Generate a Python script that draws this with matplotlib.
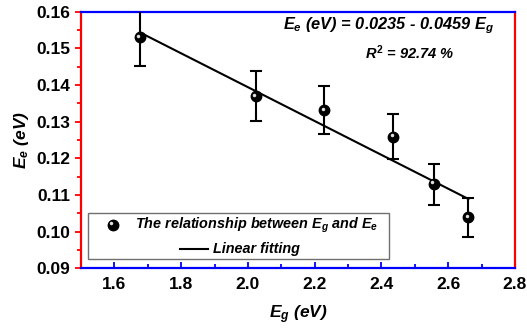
import matplotlib
matplotlib.use("Agg")
import matplotlib.pyplot as plt
import matplotlib.transforms as mtransforms
from matplotlib.patches import Rectangle
from matplotlib.lines import Line2D
import numpy as np

# data
eg = [1.676, 2.024, 2.229, 2.436, 2.557, 2.661]
ee = [0.1530, 0.1369, 0.1331, 0.1259, 0.1130, 0.1039]
ee_err = [0.0077, 0.0068, 0.0065, 0.0061, 0.0056, 0.0052]

# fitted line drawn in the figure
fit_intercept = 0.2316
fit_slope = -0.0461

plt.rcParams["font.family"] = ["Liberation Sans", "DejaVu Sans"]
plt.rcParams["font.weight"] = "bold"
plt.rcParams["mathtext.fontset"] = "custom"
plt.rcParams["mathtext.rm"] = "Liberation Sans:bold"
plt.rcParams["mathtext.it"] = "Liberation Sans:italic:bold"
plt.rcParams["mathtext.bf"] = "Liberation Sans:bold"

fig = plt.figure(figsize=(5.27, 3.30), dpi=100)
ax = fig.add_axes([0.1537, 0.1864, 0.8233, 0.7786])

# fitted line
xf = np.array([min(eg), max(eg)])
ax.plot(xf, fit_intercept + fit_slope * xf, color="black", lw=1.5, zorder=2)

# data with error bars
ax.errorbar(eg, ee, yerr=ee_err, fmt="none", ecolor="black", elinewidth=1.5,
            capsize=4, capthick=1.5, zorder=3)
ax.plot(eg, ee, "o", ms=7.5, color="black", mec="black", zorder=4)
hl = mtransforms.offset_copy(ax.transData, fig, x=-1.2, y=1.2, units="points")
ax.plot(eg, ee, "o", ms=2.5, color="#e0e0e0", mec="none", transform=hl, zorder=5)

ax.set_xlim(1.5, 2.8)
ax.set_ylim(0.09, 0.16)
ax.set_xticks(np.arange(1.6, 2.81, 0.2))
ax.set_xticks(np.arange(1.5, 2.81, 0.1), minor=True)
ax.set_yticks(np.arange(0.09, 0.1601, 0.01))
ax.set_yticks(np.arange(0.09, 0.1601, 0.005), minor=True)
ax.xaxis.set_major_formatter(matplotlib.ticker.FormatStrFormatter("%.1f"))
ax.yaxis.set_major_formatter(matplotlib.ticker.FormatStrFormatter("%.2f"))

for side, col in [("left", "red"), ("right", "red"), ("top", "blue"), ("bottom", "blue")]:
    ax.spines[side].set_color(col)
    ax.spines[side].set_linewidth(1.6)

ax.tick_params(axis="y", which="both", direction="out", colors="red",
               labelcolor="black", width=1.3, labelsize=12.5, right=False)
ax.tick_params(axis="y", which="major", length=4)
ax.tick_params(axis="y", which="minor", length=3)
ax.tick_params(axis="x", which="both", direction="in", colors="blue",
               labelcolor="black", width=1.3, labelsize=12.5, top=False, pad=6)
ax.tick_params(axis="x", which="major", length=4)
ax.tick_params(axis="x", which="minor", length=3)
for lab in ax.get_xticklabels() + ax.get_yticklabels():
    lab.set_fontweight("bold")

ax.set_xlabel(r"$E_g$ (eV)", fontsize=12.5, style="italic", fontweight="bold", labelpad=8)
ax.set_ylabel(r"$E_e$ (eV)", fontsize=12.5, style="italic", fontweight="bold", labelpad=4)

ax.text(0.952, 0.945, r"$E_e$ (eV) = 0.0235 - 0.0459 $E_g$", transform=ax.transAxes,
        ha="right", va="center", fontsize=11.8, style="italic", fontweight="bold")
ax.text(0.862, 0.84, r"$R^2$ = 92.74 %", transform=ax.transAxes,
        ha="right", va="center", fontsize=10.5, style="italic", fontweight="bold")

# legend box drawn by hand (Origin-style layout)
ax.add_patch(Rectangle((0.016, 0.038), 0.694, 0.179, transform=ax.transAxes,
                       facecolor="white", edgecolor="#707070", lw=1.0, zorder=6))
ax.add_line(Line2D([0.074], [0.169], marker="o", ms=7.5, color="black",
                   transform=ax.transAxes, zorder=7))
ax.add_line(Line2D([0.074], [0.169], marker="o", ms=2.5, color="#e0e0e0", mec="none",
                   transform=mtransforms.offset_copy(ax.transAxes, fig, x=-1.2, y=1.2,
                                                     units="points"), zorder=8))
ax.text(0.124, 0.169, r"The relationship between $E_g$ and $E_e$", transform=ax.transAxes,
        ha="left", va="center", fontsize=10.4, style="italic", fontweight="bold", zorder=7)
ax.add_line(Line2D([0.228, 0.293], [0.075, 0.075], color="black", lw=1.5,
                   transform=ax.transAxes, zorder=7))
ax.text(0.304, 0.075, "Linear fitting", transform=ax.transAxes,
        ha="left", va="center", fontsize=10.4, style="italic", fontweight="bold", zorder=7)

fig.savefig("out.png", dpi=100)
